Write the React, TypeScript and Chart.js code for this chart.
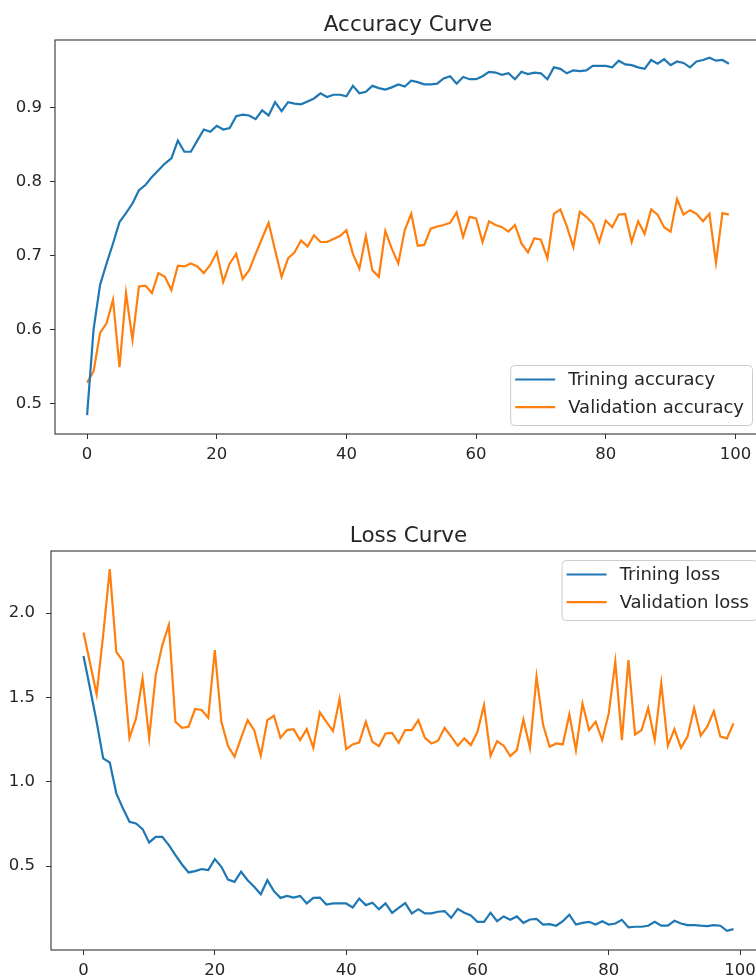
import React, { useEffect, useRef } from "react";
import { Chart, registerables } from "chart.js";
Chart.register(...registerables);

const epochs: number[] = Array.from({ length: 100 }, (_, i) => i);
const xTicks = [0, 20, 40, 60, 80, 100];
const accYTicks = [0.5, 0.6, 0.7, 0.8, 0.9];
const lossYTicks = [0.5, 1.0, 1.5, 2.0];

const trainAcc = [
  0.484, 0.600, 0.660, 0.689, 0.716, 0.745, 0.757, 0.770, 0.788, 0.795,
  0.806, 0.815, 0.824, 0.831, 0.855, 0.840, 0.840, 0.855, 0.870, 0.867,
  0.875, 0.870, 0.872, 0.888, 0.890, 0.889, 0.884, 0.896, 0.889, 0.907,
  0.895, 0.907, 0.905, 0.904, 0.908, 0.912, 0.919, 0.914, 0.917, 0.917,
  0.915, 0.929, 0.919, 0.921, 0.929, 0.926, 0.924, 0.927, 0.931, 0.928,
  0.936, 0.934, 0.931, 0.931, 0.932, 0.939, 0.942, 0.932, 0.941, 0.938,
  0.938, 0.942, 0.948, 0.947, 0.944, 0.946, 0.938, 0.948, 0.945, 0.947,
  0.946, 0.938, 0.954, 0.952, 0.946, 0.950, 0.949, 0.950, 0.956, 0.956,
  0.956, 0.954, 0.963, 0.958, 0.957, 0.954, 0.952, 0.964, 0.959, 0.965,
  0.957, 0.962, 0.960, 0.954, 0.962, 0.964, 0.967, 0.963, 0.964, 0.959,
];
const valAcc = [
  0.528, 0.543, 0.595, 0.608, 0.640, 0.549, 0.649, 0.586, 0.658, 0.659,
  0.649, 0.676, 0.671, 0.653, 0.686, 0.685, 0.689, 0.685, 0.676, 0.687,
  0.704, 0.664, 0.689, 0.702, 0.668, 0.680, 0.702, 0.723, 0.744, 0.707,
  0.671, 0.696, 0.704, 0.720, 0.712, 0.727, 0.718, 0.718, 0.722, 0.726,
  0.734, 0.702, 0.682, 0.726, 0.680, 0.671, 0.733, 0.709, 0.689, 0.734,
  0.756, 0.713, 0.714, 0.736, 0.739, 0.741, 0.744, 0.758, 0.725, 0.752,
  0.750, 0.718, 0.746, 0.741, 0.738, 0.732, 0.741, 0.716, 0.704, 0.723,
  0.721, 0.696, 0.756, 0.762, 0.739, 0.711, 0.759, 0.752, 0.743, 0.718,
  0.747, 0.738, 0.755, 0.756, 0.718, 0.746, 0.729, 0.762, 0.755, 0.738,
  0.732, 0.776, 0.755, 0.761, 0.756, 0.746, 0.756, 0.690, 0.757, 0.755,
];
const trainLoss = [
  1.745, 1.553, 1.355, 1.138, 1.114, 0.931, 0.842, 0.762, 0.752, 0.719,
  0.640, 0.673, 0.673, 0.624, 0.565, 0.509, 0.462, 0.470, 0.482, 0.476,
  0.541, 0.495, 0.420, 0.406, 0.466, 0.416, 0.377, 0.333, 0.416, 0.351,
  0.311, 0.323, 0.313, 0.323, 0.278, 0.311, 0.313, 0.272, 0.278, 0.278,
  0.278, 0.254, 0.307, 0.268, 0.282, 0.244, 0.278, 0.222, 0.252, 0.280,
  0.219, 0.244, 0.219, 0.219, 0.229, 0.233, 0.193, 0.246, 0.223, 0.207,
  0.169, 0.169, 0.223, 0.173, 0.201, 0.181, 0.201, 0.163, 0.183, 0.187,
  0.153, 0.155, 0.146, 0.173, 0.211, 0.153, 0.163, 0.169, 0.153, 0.173,
  0.153, 0.159, 0.181, 0.136, 0.140, 0.140, 0.146, 0.169, 0.146, 0.146,
  0.175, 0.159, 0.150, 0.150, 0.146, 0.144, 0.150, 0.146, 0.116, 0.126,
];
const valLoss = [
  1.885, 1.702, 1.518, 1.870, 2.261, 1.770, 1.715, 1.260, 1.375, 1.613,
  1.260, 1.632, 1.810, 1.929, 1.355, 1.320, 1.326, 1.431, 1.425, 1.379,
  1.781, 1.355, 1.213, 1.148, 1.260, 1.365, 1.306, 1.154, 1.365, 1.391,
  1.260, 1.306, 1.312, 1.247, 1.312, 1.201, 1.411, 1.355, 1.300, 1.490,
  1.193, 1.221, 1.233, 1.355, 1.237, 1.211, 1.286, 1.290, 1.231, 1.306,
  1.306, 1.365, 1.260, 1.227, 1.243, 1.320, 1.267, 1.213, 1.257, 1.217,
  1.296, 1.454, 1.154, 1.241, 1.213, 1.152, 1.187, 1.369, 1.201, 1.622,
  1.336, 1.207, 1.227, 1.221, 1.399, 1.187, 1.464, 1.306, 1.355, 1.247,
  1.405, 1.711, 1.247, 1.721, 1.280, 1.306, 1.437, 1.247, 1.583, 1.213,
  1.312, 1.201, 1.267, 1.437, 1.273, 1.326, 1.418, 1.267, 1.257, 1.346,
];

const BLUE = "#1f77b4";
const ORANGE = "#ff7f0e";
const FONT = '"DejaVu Sans"';
const TICK_SIZE = 16.5;
const TITLE_SIZE = 21.5;
const LEGEND_SIZE = 18;
const TEXT = "#262626";

type Cfg = {
  title: string;
  labels: [string, string];
  series: [number[], number[]];
  yTicks: number[];
  yMin: number;
  yMax: number;
  legendLoc: "lower right" | "upper right";
  pad: { top: number; right: number };
  yWidth: number;
  xHeight: number;
  yPad: number;
};

function decorPlugin(cfg: Cfg) {
  return {
    id: "decor",
    afterDraw(chart: any) {
      const { ctx, chartArea: a } = chart;
      ctx.save();
      ctx.strokeStyle = "#333";
      ctx.lineWidth = 1.1;
      ctx.strokeRect(a.left, a.top, a.right - a.left, a.bottom - a.top);

      ctx.fillStyle = TEXT;
      ctx.font = `${TITLE_SIZE}px ${FONT}`;
      ctx.textAlign = "center";
      ctx.textBaseline = "alphabetic";
      ctx.fillText(cfg.title, (a.left + a.right) / 2, a.top - 9.5);

      ctx.font = `${LEGEND_SIZE}px ${FONT}`;
      const ds = chart.data.datasets;
      const tw = Math.max(...ds.map((d: any) => ctx.measureText(d.label).width));
      const w = 5 + 40 + 13 + tw + 8;
      const h = 60;
      const x = a.right - 9 - w;
      const y = cfg.legendLoc === "lower right" ? a.bottom - 9 - h : a.top + 9;
      ctx.beginPath();
      ctx.roundRect(x + 0.5, y + 0.5, w, h, 4);
      ctx.fillStyle = "rgba(255,255,255,0.8)";
      ctx.fill();
      ctx.strokeStyle = "#cccccc";
      ctx.lineWidth = 1;
      ctx.stroke();
      ds.forEach((d: any, i: number) => {
        const cy = y + 14.5 + 27.6 * i;
        ctx.beginPath();
        ctx.moveTo(x + 5, cy);
        ctx.lineTo(x + 45, cy);
        ctx.strokeStyle = d.borderColor;
        ctx.lineWidth = 2.2;
        ctx.stroke();
        ctx.fillStyle = TEXT;
        ctx.textAlign = "left";
        ctx.textBaseline = "middle";
        ctx.fillText(d.label, x + 58, cy + 1);
      });
      ctx.restore();
    },
  };
}

function makeChart(canvas: HTMLCanvasElement, cfg: Cfg) {
  const colors = [BLUE, ORANGE];
  return new Chart(canvas, {
    type: "line",
    data: {
      datasets: cfg.series.map((s, k) => ({
        label: cfg.labels[k],
        data: epochs.map((e, i) => ({ x: e, y: s[i] })),
        borderColor: colors[k],
        backgroundColor: colors[k],
        borderWidth: 2.2,
        pointRadius: 0,
        tension: 0,
        fill: false,
      })),
    },
    options: {
      animation: false,
      responsive: false,
      events: [],
      layout: { padding: { top: cfg.pad.top, right: cfg.pad.right, left: 0, bottom: 0 } },
      plugins: { legend: { display: false }, title: { display: false }, tooltip: { enabled: false } },
      scales: {
        x: {
          type: "linear",
          min: -4.95,
          max: 103.95,
          afterBuildTicks: (s: any) => {
            s.ticks = xTicks.map((v) => ({ value: v }));
          },
          afterFit: (s: any) => {
            s.height = cfg.xHeight;
          },
          ticks: {
            autoSkip: false,
            maxRotation: 0,
            padding: 6,
            color: TEXT,
            font: { family: FONT, size: TICK_SIZE },
            callback: (v: any) => String(v),
          },
          grid: { display: true, drawOnChartArea: false, drawTicks: true, tickLength: 5, tickColor: "#333", color: "#333" },
          border: { display: false },
        },
        y: {
          type: "linear",
          min: cfg.yMin,
          max: cfg.yMax,
          afterBuildTicks: (s: any) => {
            s.ticks = cfg.yTicks.map((v) => ({ value: v }));
          },
          afterFit: (s: any) => {
            s.width = cfg.yWidth;
          },
          ticks: {
            autoSkip: false,
            padding: cfg.yPad,
            color: TEXT,
            font: { family: FONT, size: TICK_SIZE },
            callback: (v: any) => Number(v).toFixed(1),
          },
          grid: { display: true, drawOnChartArea: false, drawTicks: true, tickLength: 5, tickColor: "#333", color: "#333" },
          border: { display: false },
        },
      },
    },
    plugins: [decorPlugin(cfg)],
  } as any);
}

const accCfg: Cfg = {
  title: "Accuracy Curve",
  labels: ["Trining accuracy", "Validation accuracy"],
  series: [trainAcc, valAcc],
  yTicks: accYTicks,
  yMin: 0.4585,
  yMax: 0.991,
  legendLoc: "lower right",
  pad: { top: 40, right: 39 },
  yWidth: 55,
  xHeight: 36,
  yPad: 8,
};

const lossCfg: Cfg = {
  title: "Loss Curve",
  labels: ["Trining loss", "Validation loss"],
  series: [trainLoss, valLoss],
  yTicks: lossYTicks,
  yMin: 0.002,
  yMax: 2.368,
  legendLoc: "upper right",
  pad: { top: 71, right: 34 },
  yWidth: 51,
  xHeight: 30,
  yPad: 11,
};

export default function App() {
  const ref1 = useRef<HTMLCanvasElement>(null);
  const ref2 = useRef<HTMLCanvasElement>(null);
  useEffect(() => {
    const c1 = makeChart(ref1.current!, accCfg);
    const c2 = makeChart(ref2.current!, lossCfg);
    return () => {
      c1.destroy();
      c2.destroy();
    };
  }, []);
  return (
    <div
      style={{
        position: "absolute",
        left: 0,
        top: 0,
        width: 756,
        height: 980,
        overflow: "hidden",
        background: "#fff",
      }}
    >
      <canvas ref={ref1} width={800} height={470} style={{ position: "absolute", left: 0, top: 0, width: 800, height: 470 }} />
      <canvas ref={ref2} width={800} height={500} style={{ position: "absolute", left: 0, top: 480, width: 800, height: 500 }} />
    </div>
  );
}
